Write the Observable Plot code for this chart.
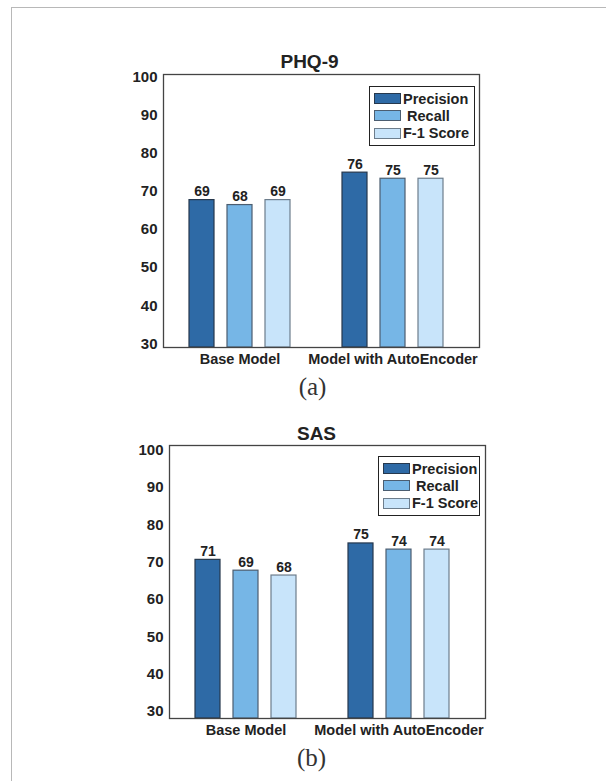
<!DOCTYPE html>
<html>
<head>
<meta charset="utf-8">
<script src="https://cdn.jsdelivr.net/npm/d3@7"></script>
<script src="https://cdn.jsdelivr.net/npm/@observablehq/plot@0.6"></script>
<style>
  html, body { margin: 0; padding: 0; background: #fff; }
  #page { position: relative; width: 606px; height: 781px; overflow: hidden; background: #fff; }
  #border { position: absolute; left: 11px; top: 7px; width: 700px; height: 900px; border: 1px solid #b8b8b8; }
  .chart { position: absolute; left: 0; }
  .legend { position: absolute; box-sizing: border-box; border: 1.5px solid #222; background: #fff;
            padding: 3px 3px 3px 3.5px; font-family: "Liberation Sans", Arial, sans-serif;
            font-weight: bold; font-size: 14.5px; color: #222; }
  .legend .row { display: flex; align-items: center; height: 17.3px; white-space: pre; }
  .legend .sw { box-sizing: border-box; width: 27px; height: 11px; border: 1px solid #333; margin-right: 2.5px; flex: none; }
</style>
</head>
<body>
<div id="page">
  <div id="border"></div>
</div>
<script>
// ---- data ----
const groups = ["Base Model", "Model with AutoEncoder"];
const seriesNames = ["Precision", "Recall", "F-1 Score"];
const legendTexts = ["Precision", " Recall", "F-1 Score"];
const seriesColors = ["#2e6aa6", "#76b6e6", "#c8e4fa"];
const seriesStrokes = ["#26384d", "#4b5d70", "#6d7d8c"];

// PHQ-9: bar heights as drawn, and printed labels
const phqBase = [67.7, 66.4, 67.7];
const phqAuto = [74.9, 73.3, 73.3];
const phqBaseLabels = [69, 68, 69];
const phqAutoLabels = [76, 75, 75];

// SAS
const sasBase = [70.6, 67.7, 66.4];
const sasAuto = [75.0, 73.35, 73.35];
const sasBaseLabels = [71, 69, 68];
const sasAutoLabels = [75, 74, 74];

const yTicks = [30, 40, 50, 60, 70, 80, 90, 100];
const phqDomain = [29.06, 100.63];
const sasDomain = [28.07, 101.26];

function rowsFor(baseVals, autoVals, baseLabels, autoLabels) {
  const rows = [];
  seriesNames.forEach((s, i) => {
    rows.push({group: groups[0], series: s, value: baseVals[i], label: baseLabels[i]});
    rows.push({group: groups[1], series: s, value: autoVals[i], label: autoLabels[i]});
  });
  return rows;
}

const offsets = [-38, 0, 38];

function makeChart(cfg) {
  const rows = rowsFor(...cfg.data);
  const marks = [];
  seriesNames.forEach((s, i) => {
    const sub = rows.filter(d => d.series === s);
    marks.push(Plot.barY(sub, {
      x: "group", y1: cfg.domain[0], y2: "value",
      fill: seriesColors[i], stroke: seriesStrokes[i], strokeWidth: 1.2,
      insetLeft: 64, insetRight: 64, dx: offsets[i]
    }));
    marks.push(Plot.text(sub, {
      x: "group", y: "value", text: d => String(d.label), dx: offsets[i], dy: -4,
      lineAnchor: "bottom", fontSize: 14, fontWeight: "bold", fill: "#222",
      fontFamily: "'Liberation Sans Narrow', 'Arial Narrow', 'Liberation Sans', sans-serif"
    }));
  });
  marks.push(Plot.frame({stroke: "#444", strokeWidth: 1.3}));
  marks.push(Plot.axisY({ticks: yTicks, tickSize: 0, tickPadding: 6, fontSize: 15, fontWeight: "bold", label: null, fill: "#222"}));
  marks.push(Plot.axisX({tickSize: 0, tickPadding: cfg.xPad, fontSize: 14.5, fontWeight: "bold", label: null, fill: "#222"}));
  marks.push(Plot.text([cfg.title], {text: d => d, frameAnchor: "top", dx: cfg.titleDx, dy: cfg.titleDy,
    lineAnchor: "bottom", fontSize: 19, fontWeight: "bold", fill: "#222"}));
  marks.push(Plot.text([cfg.caption], {text: d => d, frameAnchor: "bottom", dx: cfg.capDx, dy: cfg.capDy,
    lineAnchor: "bottom", fontSize: 25, fontWeight: "normal", fill: "#333",
    fontFamily: "'Liberation Serif', 'DejaVu Serif', serif"}));
  return Plot.plot({
    width: 606, height: cfg.height,
    marginLeft: cfg.ml, marginRight: cfg.mr, marginTop: cfg.mt, marginBottom: cfg.mb,
    style: {fontFamily: "'Liberation Sans', Arial, sans-serif", background: "transparent", overflow: "visible"},
    x: {domain: groups, paddingInner: 0, paddingOuter: 0.026, align: 0, label: null},
    y: {domain: cfg.domain, label: null},
    marks
  });
}

function makeLegend(left, top, width) {
  const div = document.createElement("div");
  div.className = "legend";
  div.style.left = left + "px";
  div.style.top = top + "px";
  div.style.width = width + "px";
  seriesNames.forEach((s, i) => {
    const row = document.createElement("div");
    row.className = "row";
    const sw = document.createElement("div");
    sw.className = "sw";
    sw.style.background = seriesColors[i];
    sw.style.borderColor = seriesStrokes[i];
    const t = document.createElement("span");
    t.textContent = legendTexts[i];
    row.appendChild(sw); row.appendChild(t);
    div.appendChild(row);
  });
  return div;
}

const page = document.getElementById("page");

const c1 = document.createElement("div");
c1.className = "chart"; c1.style.top = "0px";
c1.appendChild(makeChart({
  data: [phqBase, phqAuto, phqBaseLabels, phqAutoLabels],
  domain: phqDomain, title: "PHQ-9", caption: "(a)",
  height: 400, ml: 163, mr: 127, mt: 74, mb: 53,
  titleDx: -12, titleDy: -7, capDx: -9, capDy: 47, xPad: 6
}));
page.appendChild(c1);
page.appendChild(makeLegend(369, 86, 105.5));

const c2 = document.createElement("div");
c2.className = "chart"; c2.style.top = "400px";
c2.appendChild(makeChart({
  data: [sasBase, sasAuto, sasBaseLabels, sasAutoLabels],
  domain: sasDomain, title: "SAS", caption: "(b)",
  height: 381, ml: 169, mr: 121, mt: 45, mb: 63,
  titleDx: -11, titleDy: -6, capDx: -16, capDy: 47, xPad: 6
}));
page.appendChild(c2);
page.appendChild(makeLegend(378, 456, 102));
</script>
</body>
</html>
